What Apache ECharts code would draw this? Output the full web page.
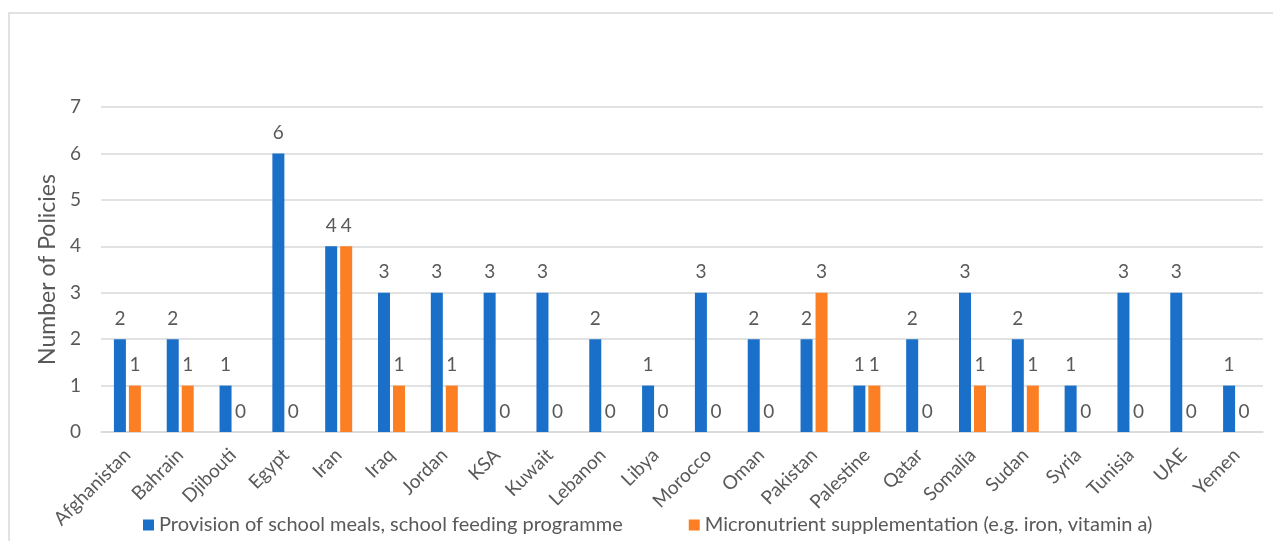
<!DOCTYPE html>
<html>
<head>
<meta charset="utf-8">
<script src="https://cdn.jsdelivr.net/npm/echarts@6/dist/echarts.min.js"></script>
<style>
  html, body { margin: 0; padding: 0; background: #fff; }
  #chart { width: 1273px; height: 541px; }
</style>
</head>
<body>
<div id="chart"></div>
<script>
// data
const countries = ['Afghanistan', 'Bahrain', 'Djibouti', 'Egypt', 'Iran', 'Iraq', 'Jordan', 'KSA', 'Kuwait',
  'Lebanon', 'Libya', 'Morocco', 'Oman', 'Pakistan', 'Palestine', 'Qatar', 'Somalia', 'Sudan', 'Syria',
  'Tunisia', 'UAE', 'Yemen'];
const schoolMeals = [2, 2, 1, 6, 4, 3, 3, 3, 3, 2, 1, 3, 2, 2, 1, 2, 3, 2, 1, 3, 3, 1];
const micronutrient = [1, 1, 0, 0, 4, 1, 1, 0, 0, 0, 0, 0, 0, 3, 1, 0, 1, 1, 0, 0, 0, 0];
const seriesNames = ['Provision of school meals, school feeding programme',
  'Micronutrient supplementation (e.g. iron, vitamin a)'];
const yTicks = [0, 1, 2, 3, 4, 5, 6, 7];

const font = 'Lato, "Open Sans", sans-serif';
const grey = '#595959';

const chart = echarts.init(document.getElementById('chart'));

const labelStyle = {
  show: true,
  position: 'top',
  distance: 11,
  color: grey,
  fontSize: 19,
  fontFamily: font
};

chart.setOption({
  animation: false,
  graphic: [{
    type: 'rect',
    shape: { x: 9, y: 13, width: 1300, height: 600 },
    style: { fill: 'none', stroke: '#d9d9d9', lineWidth: 1.5 },
    silent: true
  }],
  grid: { left: 101, right: 10, top: 107, bottom: 109, containLabel: false },
  legend: {
    data: seriesNames,
    left: 138,
    top: 510,
    itemWidth: 11,
    itemHeight: 11,
    itemGap: 66,
    icon: 'rect',
    textStyle: { color: grey, fontSize: 20, fontFamily: font }
  },
  xAxis: {
    type: 'category',
    data: countries,
    axisLine: { lineStyle: { color: '#d9d9d9', width: 1.5 } },
    axisTick: { show: false },
    axisLabel: { rotate: 45, color: grey, fontSize: 19, fontFamily: font, margin: 20, interval: 0 }
  },
  yAxis: {
    type: 'value',
    min: yTicks[0],
    max: yTicks[yTicks.length - 1],
    interval: 1,
    name: 'Number of Policies',
    nameLocation: 'middle',
    nameGap: 40,
    nameTextStyle: { color: grey, fontSize: 23, fontFamily: font },
    axisLine: { show: false },
    axisTick: { show: false },
    splitLine: { lineStyle: { color: '#d9d9d9', width: 1.5 } },
    axisLabel: { color: grey, fontSize: 19, fontFamily: font, margin: 20 }
  },
  series: [
    {
      name: seriesNames[0],
      type: 'bar',
      data: schoolMeals,
      barWidth: 12,
      barGap: '25%',
      itemStyle: { color: '#1a70c8' },
      label: labelStyle
    },
    {
      name: seriesNames[1],
      type: 'bar',
      data: micronutrient,
      barWidth: 12,
      itemStyle: { color: '#fd7f23' },
      label: labelStyle
    }
  ]
});
</script>
</body>
</html>
